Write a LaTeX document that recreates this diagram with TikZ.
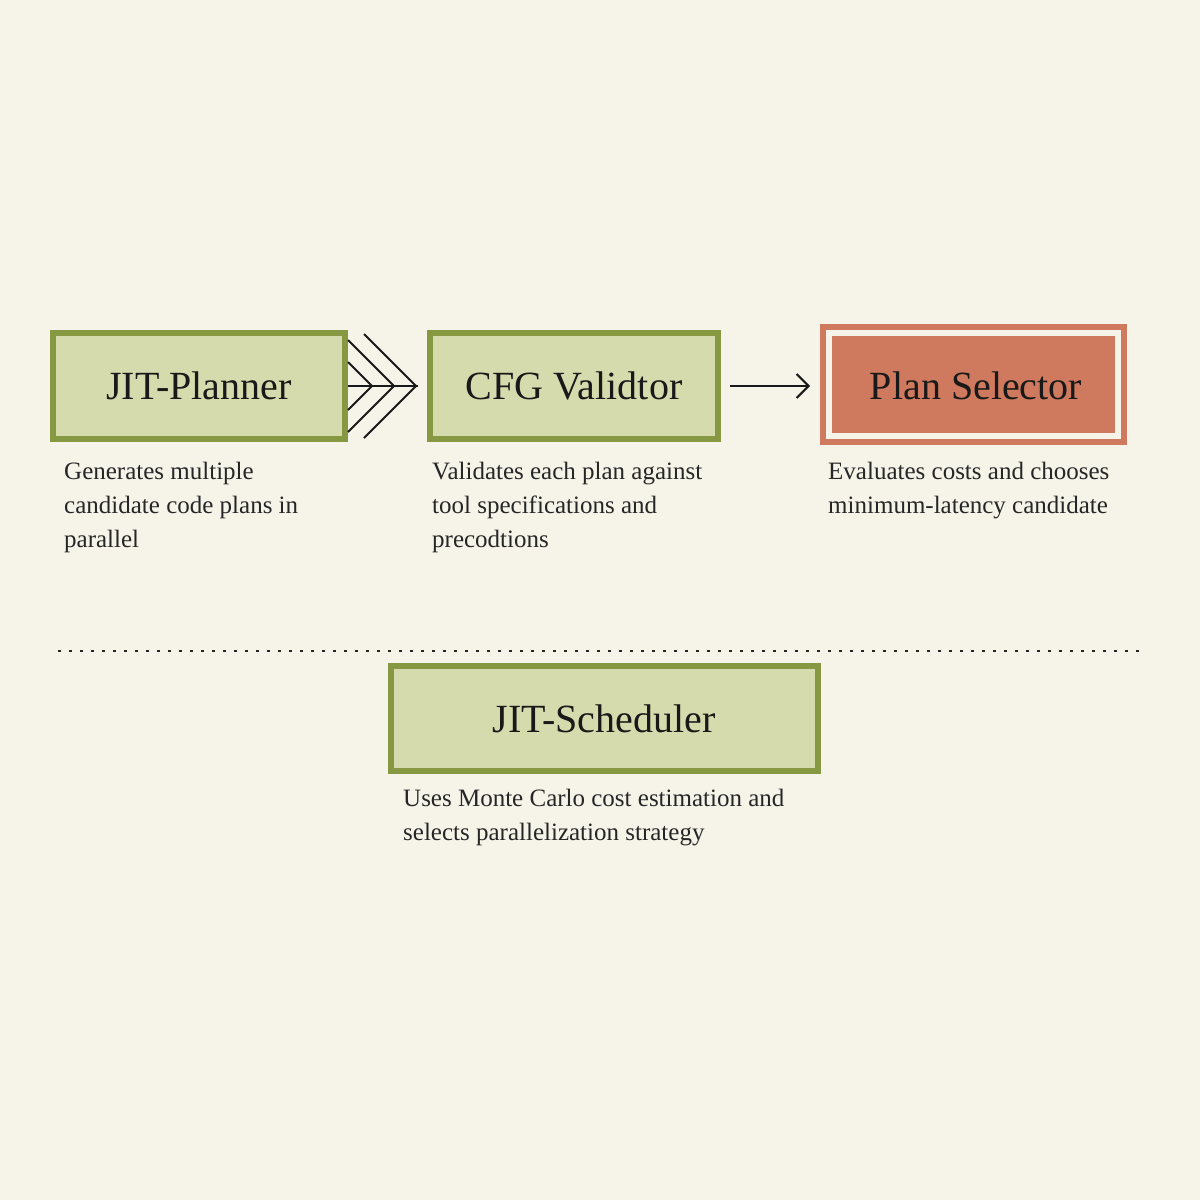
\documentclass[tikz,border=0pt]{standalone}
\usepackage{fontspec}
\setmainfont{Liberation Serif}
\usetikzlibrary{arrows.meta}
\definecolor{bg}{HTML}{F6F4E9}
\definecolor{olive}{HTML}{879842}
\definecolor{oliveFill}{HTML}{D6DBAD}
\definecolor{rust}{HTML}{CF7A5E}
\tikzset{
 gbox/.style={draw=olive,line width=6pt,fill=oliveFill},
 ttl/.style={font=\fontsize{40}{44}\selectfont,text=black!90},
 desc/.style={font=\fontsize{25}{34}\selectfont,align=left,anchor=north west,inner sep=0pt,text=black!85},
 ln/.style={line width=2pt,black!90}
}
\begin{document}
\begin{tikzpicture}[x=1pt,y=-1pt]
\fill[bg] (0,0) rectangle (1200,1200);
\useasboundingbox (0,0) rectangle (1200,1200);
\draw[gbox] (53,333) rectangle (345,439);
\node[ttl] (planner) at (199,386) {JIT-Planner};
\coordinate (pr) at (348,386);
\draw[gbox] (430,333) rectangle (718,439);
\node[ttl] (cfg) at (574,386) {CFG Validtor};
\fill[rust] (820,324) rectangle (1127,445);
\draw[bg,line width=6pt] (829,333) rectangle (1118,436);
\node[ttl] (sel) at (976,386) {Plan Selector};
\draw[gbox] (391,666) rectangle (818,771);
\node[ttl] (sch) at (604,719) {JIT-Scheduler};
% chevrons
\draw[ln] (pr) -- (418,386);
\draw[ln] (348,362) -- (372,386) -- (348,410);
\draw[ln] (348,340) -- (394,386) -- (348,432);
\draw[ln] (364,334) -- (416,386) -- (364,438);
\coordinate (a1) at (730,386); \coordinate (a2) at (810,386);
\draw[ln,-{Straight Barb[length=12pt,width=24pt]}] (a1) -- (a2);
\draw[line width=2.5pt,dash pattern=on 2.5pt off 8.5pt,black!85] (58,651) -- (1140,651);
\node[desc] (d1) at (64,462) {Generates multiple\\candidate code plans in\\parallel};
\node[desc] (d2) at (432,462) {Validates each plan against\\tool specifications and\\precodtions};
\node[desc] (d3) at (828,462) {Evaluates costs and chooses\\minimum-latency candidate};
\node[desc] (d4) at (403,789) {Uses Monte Carlo cost estimation and\\selects parallelization strategy};
\end{tikzpicture}
\end{document}
